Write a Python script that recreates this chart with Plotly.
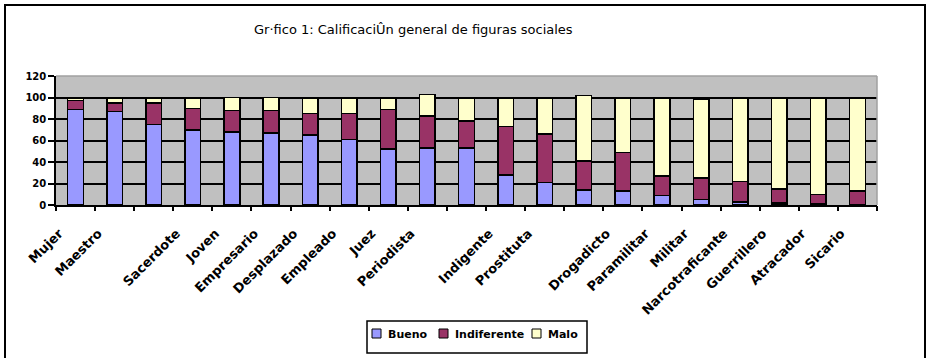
import plotly.graph_objects as go

# Category labels (blank entries have no printed label)
categorias = [
    "Mujer", "Maestro", "", "Sacerdote", "Joven", "Empresario", "Desplazado",
    "Empleado", "Juez", "Periodista", "", "Indigente", "Prostituta", "",
    "Drogadicto", "Paramilitar", "Militar", "Narcotraficante", "Guerrillero",
    "Atracador", "Sicario",
]

# Percentages per rating
bueno = [89, 87, 75, 70, 68, 67, 65, 61, 52, 53, 53, 28, 21, 14, 13, 9, 5, 3, 2, 1, 0]
indiferente = [8, 8, 20, 20, 20, 21, 20, 24, 37, 30, 25, 45, 45, 27, 36, 18, 20, 19, 13, 9, 13]
malo = [2, 4, 4, 9, 12, 12, 14, 14, 10, 20, 21, 26, 33, 61, 50, 72, 73, 77, 84, 89, 86]

y_ticks = [0, 20, 40, 60, 80, 100, 120]

titulo = "Gr·fico 1: CalificaciÛn general de figuras sociales"

W, H = 927, 358
ML, MR, MT, MB = 56, 50, 76, 153
plot_w = W - ML - MR
plot_h = H - MT - MB


def px_x(px):
    return (px - ML) / plot_w


def px_y(py):
    return (H - MB - py) / plot_h


FONT = "DejaVu Sans, Verdana, sans-serif"
pos = list(range(len(categorias)))
n = len(categorias)

series = [
    ("Bueno", bueno, "#9999FF"),
    ("Indiferente", indiferente, "#993366"),
    ("Malo", malo, "#FFFFCC"),
]

fig = go.Figure()
for nombre, valores, color in series:
    fig.add_trace(go.Bar(
        x=pos, y=valores, name=nombre, showlegend=False,
        marker=dict(color=color, line=dict(color="black", width=1.5)),
    ))

fig.update_layout(
    width=W, height=H,
    margin=dict(l=ML, r=MR, t=MT, b=MB),
    barmode="stack",
    bargap=0.6,
    paper_bgcolor="white",
    plot_bgcolor="#C0C0C0",
    font=dict(family=FONT, size=10, color="black"),
    showlegend=False,
    xaxis=dict(
        range=[-0.5, n - 0.5],
        tickvals=[p - 0.42 for p in pos], ticktext=categorias,
        tickangle=-45, ticks="", showgrid=False, zeroline=False,
        showline=True, linecolor="black", linewidth=1.5,
        ticklabelstandoff=14, automargin=False,
        tickfont=dict(size=13, weight="bold"),
    ),
    xaxis2=dict(
        overlaying="x", anchor="y", side="bottom",
        range=[-0.5, n - 0.5],
        tickvals=[i - 0.5 for i in range(n + 1)],
        ticks="outside", ticklen=5, tickwidth=1.5, tickcolor="black",
        showticklabels=False, showgrid=False, showline=False, zeroline=False,
        automargin=False,
    ),
    yaxis=dict(
        range=[0, 120], tickvals=y_ticks,
        showgrid=True, gridcolor="black", gridwidth=1.8,
        ticks="outside", ticklen=6, tickwidth=1.5, tickcolor="black",
        showline=True, linecolor="black", linewidth=1.5,
        zeroline=False, automargin=False,
        tickfont=dict(size=10, weight="bold"),
    ),
)

# Invisible trace so the boundary-tick axis is rendered
fig.add_trace(go.Scatter(x=[-0.5], y=[0], xaxis="x2", mode="markers",
                         marker=dict(opacity=0), showlegend=False, hoverinfo="skip"))

# Light gray top and right edges of the plot area
fig.add_shape(type="line", xref="paper", yref="paper", x0=0, x1=1, y0=1, y1=1,
              line=dict(color="#A0A0A0", width=1.5), layer="above")
fig.add_shape(type="line", xref="paper", yref="paper", x0=1, x1=1, y0=0, y1=1,
              line=dict(color="#A0A0A0", width=1.5), layer="above")

# Outer chart frame
fig.add_shape(type="rect", xref="paper", yref="paper",
              x0=px_x(5), x1=px_x(925), y0=px_y(H + 20), y1=px_y(5),
              line=dict(color="black", width=2), fillcolor="rgba(0,0,0,0)", layer="above")

fig.add_annotation(
    text=titulo, xref="paper", yref="paper",
    x=px_x(413), y=px_y(29), xanchor="center", yanchor="middle",
    showarrow=False, font=dict(size=13, family=FONT, color="black"),
)

# Legend: framed box with colour swatches and series names
fig.add_shape(type="rect", xref="paper", yref="paper",
              x0=px_x(367), x1=px_x(587), y0=px_y(353), y1=px_y(321),
              line=dict(color="black", width=1.5), fillcolor="white", layer="above")
swatch_x = [372, 439, 532]
for (nombre, _, color), sx in zip(series, swatch_x):
    fig.add_shape(type="rect", xref="paper", yref="paper",
                  x0=px_x(sx), x1=px_x(sx + 9), y0=px_y(338), y1=px_y(329),
                  line=dict(color="black", width=1), fillcolor=color, layer="above")
    fig.add_annotation(
        text=nombre, xref="paper", yref="paper",
        x=px_x(sx + 14), y=px_y(334), xanchor="left", yanchor="middle",
        showarrow=False, font=dict(size=11, family=FONT, weight="bold", color="black"),
    )

fig.write_html("out.html")
